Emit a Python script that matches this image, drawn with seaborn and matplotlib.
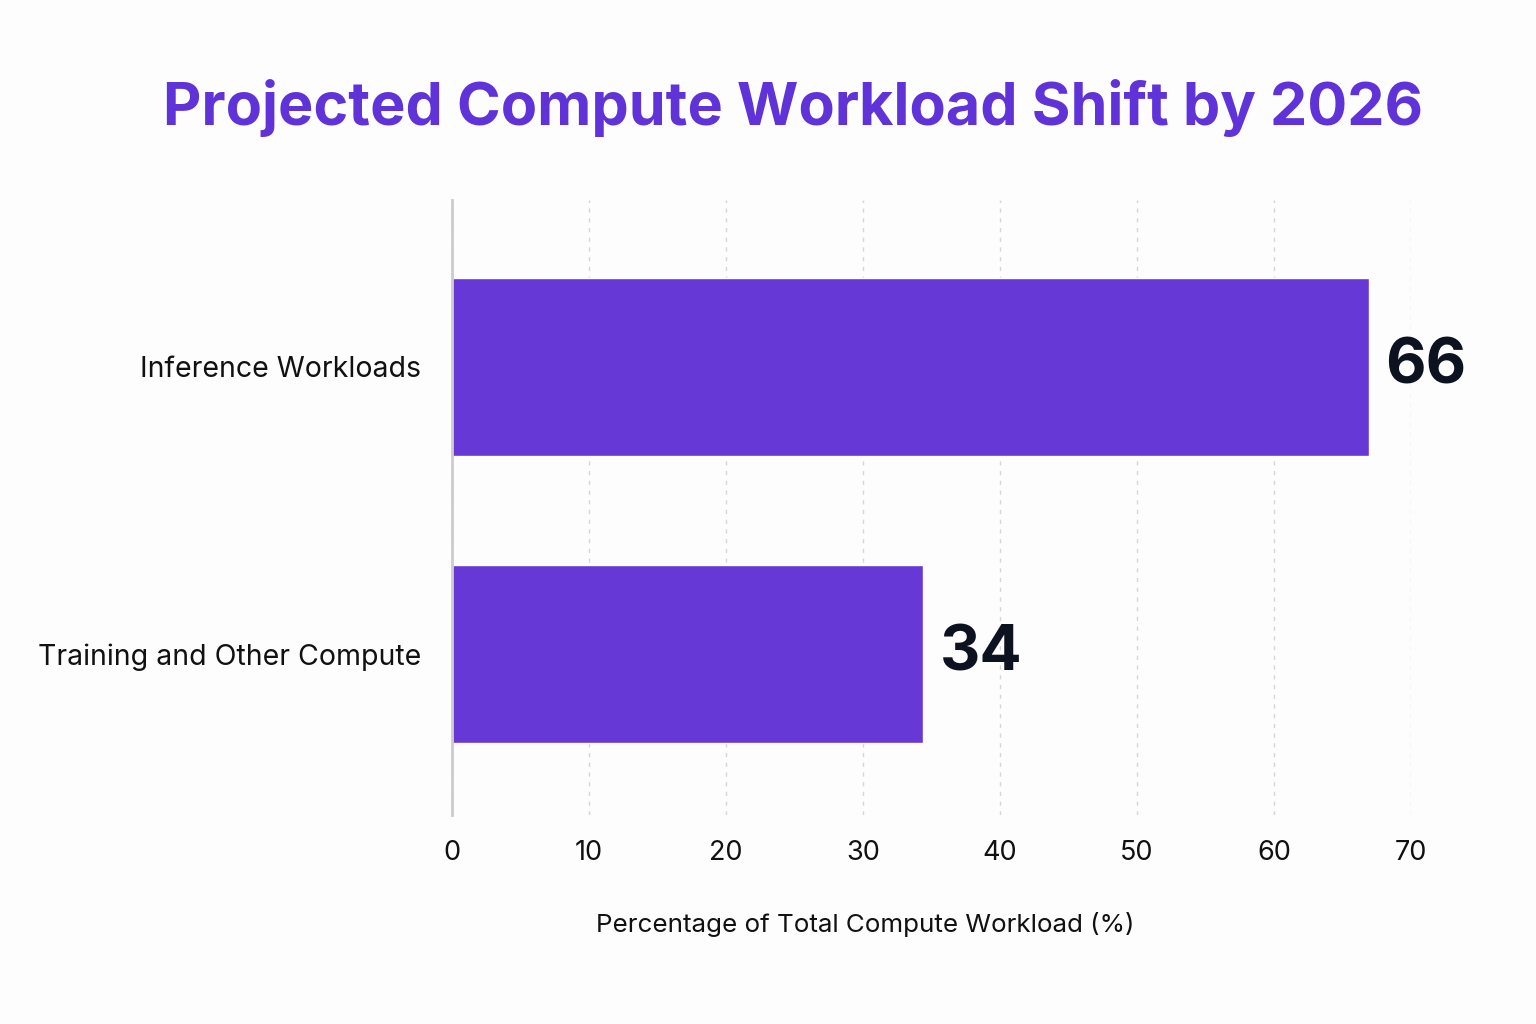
import matplotlib
matplotlib.use("Agg")
import matplotlib.pyplot as plt
import seaborn as sns
import pandas as pd

categories = ["Inference Workloads", "Training and Other Compute"]
values = [66.9, 34.4]
value_labels = ["66", "34"]
x_ticks = [0, 10, 20, 30, 40, 50, 60, 70]

title = "Projected Compute Workload Shift by 2026"
x_label = "Percentage of Total Compute Workload (%)"

sns.set_theme(style="white")
plt.rcParams["font.family"] = ["Inter", "DejaVu Sans"]

df = pd.DataFrame({"category": categories, "value": values})

fig = plt.figure(figsize=(15.36, 10.24), dpi=100)
fig.patch.set_facecolor("#fdfdfd")
ax = fig.add_axes([0.2943, 0.2041, 0.9186 - 0.2943, 0.8047 - 0.2041])
ax.set_facecolor("#fdfdfd")

bar_color = "#6638d6"
sns.barplot(data=df, x="value", y="category", orient="h", color=bar_color,
            width=0.62, saturation=1, ax=ax, zorder=3)

ax.set_xlim(0, 70)
ax.set_ylim(1.56, -0.58)
ax.set_xticks(x_ticks)
ax.set_xticklabels([str(t) for t in x_ticks], fontsize=19.5, color="#111111")
ax.tick_params(axis="x", length=0, pad=18)
ax.tick_params(axis="y", length=0, pad=22)
for lbl in ax.get_yticklabels():
    lbl.set_fontsize(20.5)
    lbl.set_color("#111111")

ax.xaxis.grid(True, linestyle=(0, (3, 4)), color="#d6d6d6", linewidth=1.0, zorder=0)
ax.yaxis.grid(False)
for s in ["top", "right", "bottom"]:
    ax.spines[s].set_visible(False)
ax.spines["left"].set_color("#cccccc")
ax.spines["left"].set_linewidth(2)
ax.spines["left"].set_zorder(4)

ax.set_ylabel("")
ax.set_xlabel(x_label, fontsize=18.7, color="#111111")
ax.xaxis.set_label_coords(0.431, -0.157)

for i, (v, lab) in enumerate(zip(values, value_labels)):
    ax.text(v + 1.2, i, lab, va="center", ha="left", fontsize=45,
            fontweight="bold", color="#0d1220", clip_on=False)

fig.text(0.516, 0.895, title, ha="center", va="center", fontsize=42.7,
         fontweight="bold", color="#5f33d8")

fig.savefig("out.png", dpi=100, facecolor=fig.get_facecolor())
